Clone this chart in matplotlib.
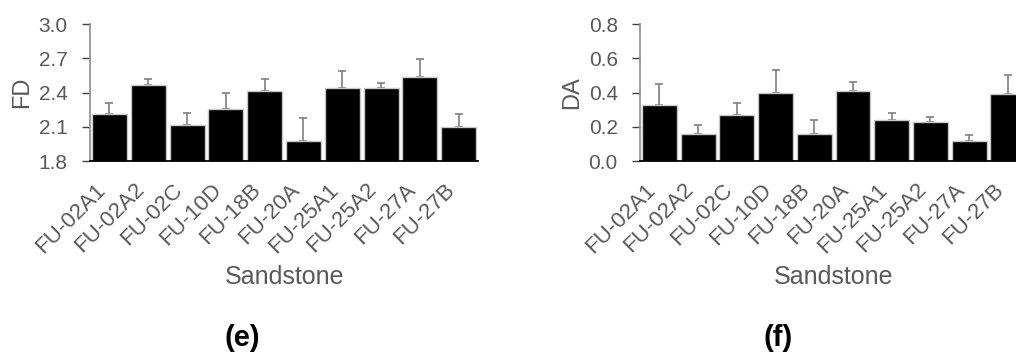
import matplotlib.pyplot as plt
import matplotlib.transforms as mtransforms
import numpy as np

plt.rcParams["font.family"] = ["Liberation Sans", "DejaVu Sans"]

samples = ["FU-02A1", "FU-02A2", "FU-02C", "FU-10D", "FU-18B",
           "FU-20A", "FU-25A1", "FU-25A2", "FU-27A", "FU-27B"]

fd_mean = [2.21, 2.47, 2.12, 2.26, 2.41, 1.98, 2.44, 2.44, 2.54, 2.10]
fd_err = [0.10, 0.05, 0.10, 0.14, 0.11, 0.20, 0.15, 0.04, 0.15, 0.11]

da_mean = [0.33, 0.16, 0.27, 0.40, 0.16, 0.41, 0.24, 0.23, 0.12, 0.39]
da_err = [0.12, 0.05, 0.07, 0.13, 0.08, 0.05, 0.04, 0.03, 0.03, 0.11]

text_col = "#595959"

fig = plt.figure(figsize=(10.16, 3.54), dpi=100)
ax1 = fig.add_axes([0.0886, 0.545, 0.382, 0.387])
ax2 = fig.add_axes([0.630, 0.545, 0.381, 0.387])


def draw(ax, means, errs, ylabel, yticks, tag, tag_x):
    x = np.arange(len(samples))
    ax.bar(x, means, 0.9, color="black", edgecolor="#c8c8c8", linewidth=1.0, zorder=2)
    ax.errorbar(x, means, yerr=[np.zeros(len(errs)), errs], fmt="none",
                ecolor="#7f7f7f", elinewidth=1.2, capsize=3, capthick=1.2, zorder=1)
    ax.set_xlim(-0.5, len(samples) - 0.5)
    ax.set_ylim(yticks[0], yticks[-1])
    ax.set_yticks(yticks)
    ax.set_yticklabels([f"{t:.1f}" for t in yticks])
    ax.set_xticks(x)
    ax.set_xticklabels(samples, rotation=45, ha="right")
    # nudge the rotated labels a little to the right
    shift = mtransforms.ScaledTranslation(0.05, 0, fig.dpi_scale_trans)
    for lbl in ax.get_xticklabels():
        lbl.set_transform(lbl.get_transform() + shift)
    for s in ["top", "right"]:
        ax.spines[s].set_visible(False)
    ax.spines["left"].set_color("#8c8c8c")
    ax.spines["left"].set_linewidth(1.2)
    ax.spines["bottom"].set_color("black")
    ax.spines["bottom"].set_linewidth(1.3)
    ax.tick_params(axis="y", direction="out", length=6, width=1, color="#404040",
                   labelsize=15, labelcolor=text_col, pad=10)
    ax.tick_params(axis="x", length=0, labelsize=16, labelcolor=text_col, pad=13)
    ax.set_ylabel(ylabel, fontsize=17, color=text_col, labelpad=4)
    ax.set_xlabel("Sandstone", fontsize=18, color=text_col, labelpad=6)
    fig.text(tag_x, 0.045, tag, fontsize=21, fontweight="bold", ha="center", va="center")


draw(ax1, fd_mean, fd_err, "FD", [1.8, 2.1, 2.4, 2.7, 3.0], "(e)", 242 / 1016)
draw(ax2, da_mean, da_err, "DA", [0.0, 0.2, 0.4, 0.6, 0.8], "(f)", 778 / 1016)

fig.savefig("out.png", dpi=100)
